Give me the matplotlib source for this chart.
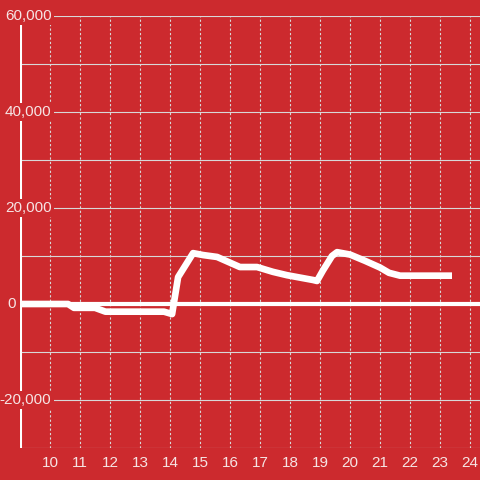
import matplotlib
matplotlib.use('Agg')
import matplotlib.pyplot as plt

# values
hours = [9.0, 10.6, 10.8, 11.5, 11.85, 13.8, 14.07, 14.27, 14.77, 15.1, 15.57,
         16.33, 16.9, 17.43, 17.9, 18.77, 18.9, 19.1, 19.4, 19.57, 20.0,
         20.5, 21.0, 21.3, 21.67, 23.4]
values = [0, 0, -800, -800, -1600, -1600, -2100, 5600, 10600, 10200, 9800,
          7700, 7700, 6700, 6000, 5000, 4800, 7000, 10000, 10800, 10300,
          9000, 7600, 6500, 5900, 5900]

xticks = list(range(10, 25))
yticks = [-20000, 0, 20000, 40000, 60000]
ygrid = list(range(-30000, 60001, 10000))

bg = '#cc2a2e'
txt = '#f6e4e4'
grid = '#d8d8d8'

fig = plt.figure(figsize=(4.8, 4.8), dpi=100, facecolor=bg)
ax = fig.add_axes([20/480, 32/480, 460/480, 432/480], facecolor=bg)
ax.set_xlim(9, 24 + 1/3)
ax.set_ylim(-30000, 60000)

for s in ax.spines.values():
    s.set_visible(False)

for g in ygrid:
    ax.axhline(g, color=grid, lw=0.8, zorder=1)
for t in xticks:
    ax.axvline(t, color=grid, lw=0.8, ls=(0, (2, 2)), zorder=1)

ax.axhline(0, color='white', lw=3, zorder=2)
ax.axvline(9, color='white', lw=2.2, zorder=3)

ax.plot(hours, values, color='white', lw=4.8, solid_joinstyle='round',
        solid_capstyle='butt', zorder=5)

for v in yticks:
    # the zero label sits outside the axis line, the others inside
    xpos = 8.85 if v == 0 else 10.05
    ax.text(xpos, v, f'{v:,}', ha='right', va='center', color=txt,
            fontsize=11, family='Liberation Sans', zorder=4, clip_on=False,
            bbox=dict(facecolor=bg, edgecolor='none', pad=1.5))

ax.set_yticks([])
ax.set_xticks(xticks)
ax.set_xticklabels([str(t) for t in xticks], family='Liberation Sans')
ax.tick_params(axis='x', length=0, pad=6, labelsize=11, labelcolor=txt)

fig.savefig('out.png', dpi=100, facecolor=bg)
